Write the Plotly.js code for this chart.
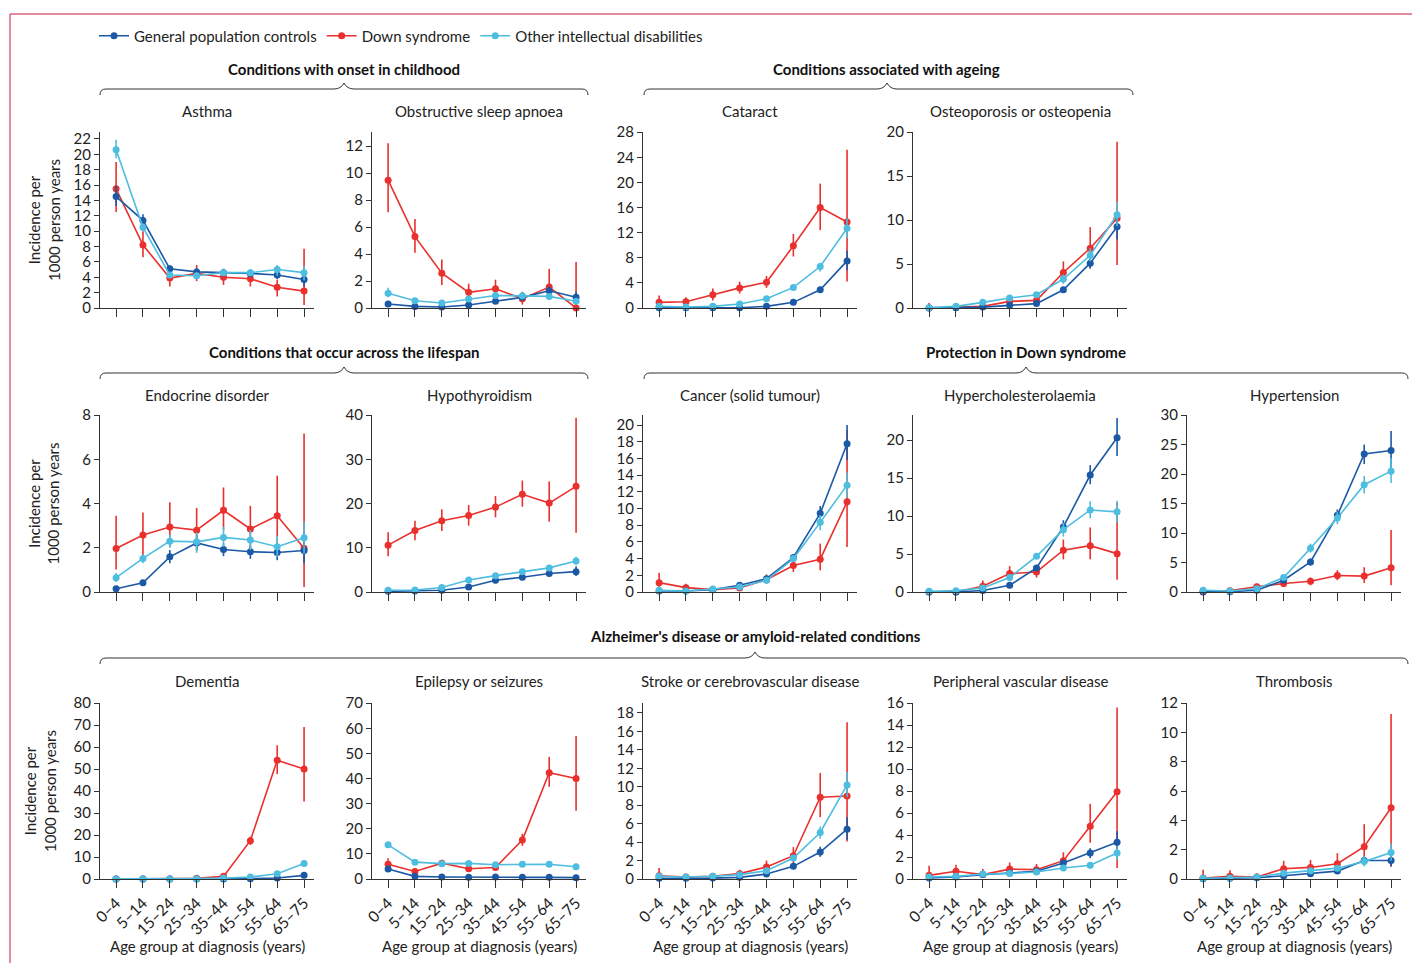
<!DOCTYPE html>
<html>
<head>
<meta charset="utf-8">
<script src="https://cdn.plot.ly/plotly-3.0.1.min.js"></script>
<style>
  html, body { margin: 0; padding: 0; background: #fff; }
  #chart { width: 1412px; height: 963px; }
</style>
</head>
<body>
<div id="chart"></div>
<script>
// age groups at diagnosis
const ages = ["0–4", "5–14", "15–24", "25–34", "35–44", "45–54", "55–64", "65–75"];

// incidence per 1000 person years, with 95% CI as [lo, hi]
// GP = general population controls, DS = Down syndrome, OID = other intellectual disabilities
const asthmaGP = [14.5, 11.4, 5.1, 4.7, 4.6, 4.5, 4.3, 3.7];
const asthmaGPci = [[13.3, 15.9], [10.5, 12.2], [4.7, 5.5], [4.2, 5.2], [4.1, 5.1], [4.0, 5.0], [3.8, 4.8], [2.8, 4.3]];
const asthmaDS = [15.5, 8.2, 3.9, 4.5, 4.0, 3.8, 2.7, 2.2];
const asthmaDSci = [[12.5, 19.0], [6.6, 10.0], [2.8, 4.8], [3.5, 5.6], [3.0, 5.0], [2.8, 4.8], [1.5, 3.7], [0.4, 7.7]];
const asthmaOID = [20.6, 10.5, 4.3, 4.2, 4.6, 4.6, 5.0, 4.6];
const asthmaOIDci = [[19.5, 21.9], [10.0, 11.0], [3.9, 4.7], [3.8, 4.6], [4.2, 5.0], [4.2, 5.0], [4.2, 5.6], [3.6, 5.5]];

const osaGP = [0.3, 0.12, 0.07, 0.22, 0.5, 0.79, 1.28, 0.79];
const osaGPci = [[0.2, 0.4], [0.08, 0.16], [0.04, 0.1], [0.17, 0.27], [0.43, 0.57], [0.7, 0.88], [0.86, 1.6], [0.37, 1.2]];
const osaDS = [9.47, 5.29, 2.58, 1.16, 1.43, 0.69, 1.55, 0];
const osaDSci = [[7.1, 12.2], [4.1, 6.6], [1.7, 3.6], [0.6, 1.8], [0.7, 2.1], [0.25, 1.2], [0.6, 2.9], [0, 3.4]];
const osaOID = [1.1, 0.54, 0.37, 0.66, 0.93, 0.9, 0.86, 0.5];
const osaOIDci = [[0.8, 1.5], [0.42, 0.66], [0.28, 0.46], [0.55, 0.77], [0.8, 1.06], [0.76, 1.04], [0.7, 1.02], [0.35, 0.65]];

const catGP = [0.05, 0.05, 0.05, 0.05, 0.26, 0.9, 2.9, 7.5];
const catGPci = [[0.02, 0.08], [0.03, 0.07], [0.03, 0.07], [0.03, 0.08], [0.2, 0.33], [0.8, 1.0], [2.7, 3.1], [6.0, 9.1]];
const catDS = [0.9, 1.0, 2.1, 3.2, 4.1, 9.9, 16.0, 13.7];
const catDSci = [[0.1, 2.0], [0.4, 1.7], [1.2, 3.1], [2.3, 4.2], [3.2, 5.1], [8.2, 11.8], [12.4, 19.8], [4.2, 25.2]];
const catOID = [0.26, 0.16, 0.26, 0.63, 1.48, 3.28, 6.6, 12.7];
const catOIDci = [[0.18, 0.36], [0.1, 0.24], [0.2, 0.33], [0.55, 0.72], [1.35, 1.62], [3.05, 3.5], [5.8, 7.2], [11.1, 14.3]];

const ostGP = [0.0, 0.04, 0.1, 0.3, 0.5, 2.07, 5.1, 9.25];
const ostGPci = [[0, 0.02], [0.02, 0.07], [0.07, 0.14], [0.25, 0.36], [0.42, 0.58], [1.9, 2.25], [4.5, 5.7], [7.8, 10.6]];
const ostDS = [0, 0.08, 0.19, 0.75, 0.87, 4.04, 6.8, 10.2];
const ostDSci = [[0, 0.57], [0, 0.4], [0.02, 0.5], [0.45, 1.1], [0.55, 1.2], [2.8, 5.3], [4.5, 9.2], [4.9, 18.9]];
const ostOID = [0.04, 0.19, 0.64, 1.13, 1.5, 3.3, 6.0, 10.6];
const ostOIDci = [[0.01, 0.08], [0.13, 0.26], [0.55, 0.74], [1.0, 1.27], [1.3, 1.7], [2.8, 3.8], [5.3, 6.8], [9.3, 12.1]];

const endGP = [0.15, 0.42, 1.59, 2.22, 1.92, 1.82, 1.79, 1.88];
const endGPci = [[0.05, 0.25], [0.35, 0.5], [1.3, 1.9], [1.86, 2.57], [1.62, 2.2], [1.5, 2.1], [1.44, 2.1], [1.3, 2.7]];
const endDS = [1.97, 2.58, 2.94, 2.8, 3.7, 2.85, 3.45, 1.98];
const endDSci = [[1.02, 3.45], [1.36, 3.6], [2.05, 4.06], [1.9, 3.8], [2.8, 4.73], [2.0, 3.9], [2.2, 5.26], [0.23, 7.17]];
const endOID = [0.65, 1.52, 2.3, 2.27, 2.47, 2.35, 2.05, 2.45];
const endOIDci = [[0.45, 0.86], [1.3, 1.7], [2.0, 2.6], [1.77, 2.7], [2.05, 2.95], [1.9, 2.8], [1.6, 2.53], [1.74, 3.18]];

const hypoGP = [0.15, 0.23, 0.38, 1.14, 2.65, 3.33, 4.17, 4.6];
const hypoGPci = [[0.1, 0.2], [0.17, 0.3], [0.3, 0.47], [1.0, 1.3], [2.45, 2.85], [3.1, 3.6], [3.85, 4.5], [3.6, 5.8]];
const hypoDS = [10.6, 13.9, 16.1, 17.3, 19.2, 22.1, 20.1, 23.9];
const hypoDSci = [[8.1, 13.5], [11.7, 16.1], [13.8, 18.7], [15.0, 19.7], [16.9, 21.7], [19.3, 25.2], [15.9, 25.0], [13.4, 39.4]];
const hypoOID = [0.38, 0.45, 1.0, 2.7, 3.7, 4.6, 5.45, 7.0];
const hypoOIDci = [[0.3, 0.47], [0.36, 0.55], [0.85, 1.15], [2.5, 2.9], [3.45, 3.95], [4.3, 4.9], [5.05, 5.9], [6.1, 8.0]];

const canGP = [0.12, 0.12, 0.28, 0.8, 1.6, 4.13, 9.42, 17.75];
const canGPci = [[0.06, 0.2], [0.08, 0.17], [0.22, 0.35], [0.7, 0.9], [1.45, 1.75], [3.85, 4.4], [8.6, 10.3], [15.8, 20.0]];
const canDS = [1.12, 0.52, 0.28, 0.48, 1.48, 3.17, 3.93, 10.8];
const canDSci = [[0.2, 2.3], [0.12, 1.0], [0.05, 0.6], [0.2, 0.8], [1.0, 2.1], [2.4, 4.1], [2.6, 5.8], [5.4, 19.4]];
const canOID = [0.2, 0.12, 0.36, 0.6, 1.4, 4.0, 8.34, 12.8];
const canOIDci = [[0.12, 0.3], [0.08, 0.18], [0.28, 0.45], [0.5, 0.7], [1.25, 1.55], [3.7, 4.3], [7.4, 9.2], [11.3, 14.3]];

const hcGP = [0, 0, 0.2, 0.88, 3.16, 8.57, 15.4, 20.3];
const hcGPci = [[0, 0.03], [0, 0.04], [0.13, 0.28], [0.75, 1.02], [2.9, 3.45], [7.8, 9.45], [14.2, 16.7], [17.9, 22.9]];
const hcDS = [0, 0, 0.75, 2.42, 2.64, 5.5, 6.1, 5.05];
const hcDSci = [[0, 0.4], [0, 0.4], [0.13, 1.5], [1.45, 3.4], [1.9, 3.5], [4.3, 6.9], [4.3, 8.5], [1.6, 11.8]];
const hcOID = [0.09, 0.18, 0.53, 1.9, 4.7, 8.2, 10.8, 10.55];
const hcOIDci = [[0.05, 0.14], [0.12, 0.25], [0.42, 0.65], [1.65, 2.15], [4.35, 5.05], [7.3, 9.1], [9.7, 11.95], [9.1, 12.0]];

const htGP = [0.06, 0.06, 0.29, 2.0, 5.09, 13.0, 23.4, 24.0];
const htGPci = [[0.03, 0.1], [0.03, 0.1], [0.22, 0.37], [1.8, 2.2], [4.5, 5.66], [12.0, 14.0], [21.7, 25.0], [20.9, 27.3]];
const htDS = [0, 0.23, 0.9, 1.43, 1.83, 2.8, 2.7, 4.1];
const htDSci = [[0, 0.2], [0.05, 0.5], [0.4, 1.4], [0.86, 2.0], [1.14, 2.46], [2.0, 3.7], [1.54, 4.2], [1.14, 10.5]];
const htOID = [0.29, 0.17, 0.57, 2.46, 7.43, 12.57, 18.2, 20.5];
const htOIDci = [[0.2, 0.4], [0.1, 0.25], [0.45, 0.7], [2.2, 2.75], [6.7, 8.2], [11.5, 13.6], [16.7, 19.7], [18.5, 22.7]];

const demGP = [0, 0, 0, 0, 0.05, 0.15, 0.45, 1.66];
const demGPci = [[0, 0.02], [0, 0.02], [0, 0.02], [0, 0.03], [0.02, 0.1], [0.08, 0.25], [0.3, 0.6], [1.3, 2.0]];
const demDS = [0, 0, 0, 0.3, 1.2, 17.4, 54.0, 50.0];
const demDSci = [[0, 0.3], [0, 0.3], [0, 0.3], [0, 0.8], [0.7, 1.8], [15.5, 19.3], [47.7, 60.8], [35.2, 69.1]];
const demOID = [0.05, 0.05, 0.05, 0.15, 0.4, 0.9, 2.4, 7.1];
const demOIDci = [[0.02, 0.1], [0.02, 0.1], [0.02, 0.1], [0.08, 0.25], [0.3, 0.55], [0.7, 1.1], [2.0, 2.8], [6.0, 8.0]];

const epiGP = [3.96, 1.06, 0.8, 0.66, 0.8, 0.66, 0.66, 0.53];
const epiGPci = [[3.4, 4.6], [0.9, 1.25], [0.68, 0.95], [0.55, 0.78], [0.68, 0.93], [0.55, 0.78], [0.55, 0.8], [0.4, 0.7]];
const epiDS = [5.9, 3.0, 6.3, 4.1, 4.6, 15.5, 42.3, 40.0];
const epiDSci = [[4.0, 8.3], [2.1, 4.4], [5.0, 7.7], [3.3, 5.0], [3.7, 5.7], [13.2, 18.0], [36.7, 48.6], [27.2, 56.9]];
const epiOID = [13.6, 6.7, 6.1, 6.2, 5.7, 5.9, 5.9, 4.9];
const epiOIDci = [[12.8, 14.4], [6.2, 7.2], [5.6, 6.6], [5.7, 6.7], [5.2, 6.2], [5.4, 6.4], [5.4, 6.4], [4.2, 5.6]];

const strGP = [0.07, 0.07, 0.1, 0.18, 0.54, 1.37, 2.92, 5.4];
const strGPci = [[0.04, 0.11], [0.04, 0.11], [0.06, 0.15], [0.12, 0.25], [0.45, 0.65], [1.17, 1.57], [2.4, 3.5], [4.25, 6.7]];
const strDS = [0.36, 0.22, 0.29, 0.58, 1.3, 2.52, 8.86, 9.0];
const strDSci = [[0, 1.19], [0.05, 0.45], [0.06, 0.55], [0.22, 1.0], [0.76, 2.0], [1.66, 3.46], [6.7, 11.5], [4.07, 17.0]];
const strOID = [0.29, 0.22, 0.29, 0.47, 0.9, 2.27, 5.04, 10.2];
const strOIDci = [[0.2, 0.4], [0.15, 0.3], [0.2, 0.38], [0.38, 0.57], [0.78, 1.03], [1.9, 2.6], [4.36, 5.7], [8.9, 11.6]];

const pvdGP = [0.09, 0.18, 0.4, 0.55, 0.7, 1.46, 2.37, 3.35];
const pvdGPci = [[0.05, 0.14], [0.12, 0.25], [0.32, 0.5], [0.45, 0.66], [0.58, 0.82], [1.3, 1.6], [1.9, 2.8], [2.37, 4.35]];
const pvdDS = [0.33, 0.7, 0.4, 0.9, 0.85, 1.67, 4.8, 7.94];
const pvdDSci = [[0, 1.2], [0.24, 1.3], [0.1, 0.9], [0.4, 1.5], [0.4, 1.37], [1.0, 2.43], [3.3, 6.84], [1.0, 15.6]];
const pvdOID = [0.18, 0.24, 0.46, 0.49, 0.64, 1.0, 1.25, 2.37];
const pvdOIDci = [[0.1, 0.28], [0.16, 0.34], [0.36, 0.57], [0.4, 0.6], [0.53, 0.76], [0.85, 1.15], [0.94, 1.55], [1.76, 2.98]];

const thrGP = [0.02, 0.05, 0.09, 0.22, 0.36, 0.54, 1.26, 1.26];
const thrGPci = [[0.01, 0.04], [0.03, 0.08], [0.06, 0.13], [0.17, 0.28], [0.3, 0.43], [0.46, 0.63], [0.97, 1.58], [0.86, 1.8]];
const thrDS = [0.07, 0.18, 0.14, 0.7, 0.79, 1.04, 2.2, 4.86];
const thrDSci = [[0, 0.63], [0, 0.59], [0, 0.4], [0.29, 1.24], [0.4, 1.3], [0.56, 1.76], [1.08, 3.74], [0.86, 11.26]];
const thrOID = [0.05, 0.07, 0.14, 0.4, 0.56, 0.74, 1.19, 1.8];
const thrOIDci = [[0.02, 0.09], [0.04, 0.11], [0.1, 0.19], [0.32, 0.49], [0.47, 0.66], [0.63, 0.86], [0.86, 1.58], [1.24, 2.43]];

const seriesNames = ["General population controls", "Down syndrome", "Other intellectual disabilities"];

// ---- look ----
const FONT = "Lato, 'Open Sans', sans-serif";
const COL_GP = "#1b58a5";
const COL_DS = "#e9302d";
const COL_OID = "#4dbde0";
const INK = "#222";
const W = 1412, H = 963;

// pixel -> paper
const fx = (p) => p / W;
const fy = (p) => 1 - p / H;

// column / row placement of the small panels (pixels)
const colX = [[100, 314], [372, 586], [643, 857], [913, 1127], [1187, 1401]];
const rowY = [[132, 308], [415, 592], [703, 879]];
const titleY = [111, 395, 681];

const panels = [
  { title: "Asthma", col: 0, row: 0, ymax: 22.9, dtick: 2, gp: asthmaGP, gpCi: asthmaGPci, ds: asthmaDS, dsCi: asthmaDSci, oid: asthmaOID, oidCi: asthmaOIDci },
  { title: "Obstructive sleep apnoea", col: 1, row: 0, ymax: 13.04, dtick: 2, gp: osaGP, gpCi: osaGPci, ds: osaDS, dsCi: osaDSci, oid: osaOID, oidCi: osaOIDci },
  { title: "Cataract", col: 2, row: 0, ymax: 28.02, dtick: 4, gp: catGP, gpCi: catGPci, ds: catDS, dsCi: catDSci, oid: catOID, oidCi: catOIDci },
  { title: "Osteoporosis or osteopenia", col: 3, row: 0, ymax: 20.02, dtick: 5, gp: ostGP, gpCi: ostGPci, ds: ostDS, dsCi: ostDSci, oid: ostOID, oidCi: ostOIDci },
  { title: "Endocrine disorder", col: 0, row: 1, ymax: 8.01, dtick: 2, gp: endGP, gpCi: endGPci, ds: endDS, dsCi: endDSci, oid: endOID, oidCi: endOIDci },
  { title: "Hypothyroidism", col: 1, row: 1, ymax: 40.03, dtick: 10, gp: hypoGP, gpCi: hypoGPci, ds: hypoDS, dsCi: hypoDSci, oid: hypoOID, oidCi: hypoOIDci },
  { title: "Cancer (solid tumour)", col: 2, row: 1, ymax: 21.2, dtick: 2, gp: canGP, gpCi: canGPci, ds: canDS, dsCi: canDSci, oid: canOID, oidCi: canOIDci },
  { title: "Hypercholesterolaemia", col: 3, row: 1, ymax: 23.3, dtick: 5, gp: hcGP, gpCi: hcGPci, ds: hcDS, dsCi: hcDSci, oid: hcOID, oidCi: hcOIDci },
  { title: "Hypertension", col: 4, row: 1, ymax: 30.02, dtick: 5, gp: htGP, gpCi: htGPci, ds: htDS, dsCi: htDSci, oid: htOID, oidCi: htOIDci },
  { title: "Dementia", col: 0, row: 2, ymax: 80.05, dtick: 10, gp: demGP, gpCi: demGPci, ds: demDS, dsCi: demDSci, oid: demOID, oidCi: demOIDci },
  { title: "Epilepsy or seizures", col: 1, row: 2, ymax: 70.05, dtick: 10, gp: epiGP, gpCi: epiGPci, ds: epiDS, dsCi: epiDSci, oid: epiOID, oidCi: epiOIDci },
  { title: "Stroke or cerebrovascular disease", col: 2, row: 2, ymax: 19.08, dtick: 2, gp: strGP, gpCi: strGPci, ds: strDS, dsCi: strDSci, oid: strOID, oidCi: strOIDci },
  { title: "Peripheral vascular disease", col: 3, row: 2, ymax: 16.01, dtick: 2, gp: pvdGP, gpCi: pvdGPci, ds: pvdDS, dsCi: pvdDSci, oid: pvdOID, oidCi: pvdOIDci },
  { title: "Thrombosis", col: 4, row: 2, ymax: 12.01, dtick: 2, gp: thrGP, gpCi: thrGPci, ds: thrDS, dsCi: thrDSci, oid: thrOID, oidCi: thrOIDci },
];

// group headings with curly braces: [text, x0, x1, xMid, textY, braceY]
const groups = [
  ["Conditions with onset in childhood", 100, 588, 344, 69, 89],
  ["Conditions associated with ageing", 644, 1133, 887, 69, 89],
  ["Conditions that occur across the lifespan", 100, 588, 344, 352, 373],
  ["Protection in Down syndrome", 644, 1408, 1026, 352, 373],
  ["Alzheimer's disease or amyloid-related conditions", 100, 1408, 755, 636, 658],
];

const traces = [];
const layout = {
  width: W,
  height: H,
  margin: { l: 0, r: 0, t: 0, b: 0 },
  paper_bgcolor: "#fff",
  plot_bgcolor: "rgba(0,0,0,0)",
  font: { family: FONT, size: 15, color: INK },
  showlegend: true,
  legend: {
    orientation: "h",
    x: fx(94),
    xanchor: "left",
    y: fy(36),
    yanchor: "middle",
    font: { family: FONT, size: 15, color: INK },
    bgcolor: "rgba(0,0,0,0)",
    itemclick: false,
    itemdoubleclick: false,
  },
  shapes: [],
  annotations: [],
};

function addSeries(vals, ci, color, name, rank, ax, first) {
  traces.push({
    type: "scatter",
    mode: "lines+markers",
    x: ages,
    y: vals,
    xaxis: "x" + ax,
    yaxis: "y" + ax,
    name: name,
    legendgroup: name,
    legendrank: rank,
    showlegend: first,
    line: { color: color, width: 1.6 },
    marker: { color: color, size: 7 },
    error_y: {
      type: "data",
      symmetric: false,
      array: ci.map((c, i) => c[1] - vals[i]),
      arrayminus: ci.map((c, i) => vals[i] - c[0]),
      color: color,
      thickness: 1.6,
      width: 0,
    },
    cliponaxis: false,
    hoverinfo: "skip",
  });
}

panels.forEach((p, i) => {
  const n = i === 0 ? "" : String(i + 1);
  const [x0, x1] = colX[p.col];
  const [yTop, yBot] = rowY[p.row];
  const bottomRow = p.row === 2;

  // order: red, dark blue, light blue on top
  addSeries(p.ds, p.dsCi, COL_DS, seriesNames[1], 2, n, i === 0);
  addSeries(p.gp, p.gpCi, COL_GP, seriesNames[0], 1, n, i === 0);
  addSeries(p.oid, p.oidCi, COL_OID, seriesNames[2], 3, n, i === 0);

  layout["xaxis" + n] = {
    domain: [fx(x0), fx(x1)],
    anchor: "y" + n,
    type: "category",
    range: [-0.6, 7.37],
    showgrid: false,
    zeroline: false,
    showline: true,
    linecolor: "#333",
    linewidth: 1,
    ticks: "outside",
    ticklen: 8,
    tickwidth: 1,
    tickcolor: "#333",
    showticklabels: bottomRow,
    tickangle: -45,
    tickfont: { family: FONT, size: 15.5, color: INK },
    fixedrange: true,
  };
  layout["yaxis" + n] = {
    domain: [fy(yBot), fy(yTop)],
    anchor: "x" + n,
    range: [0, p.ymax],
    tick0: 0,
    dtick: p.dtick,
    showgrid: false,
    zeroline: false,
    showline: true,
    linecolor: "#333",
    linewidth: 1,
    ticks: "outside",
    ticklen: 5,
    tickwidth: 1,
    tickcolor: "#333",
    tickfont: { family: FONT, size: 15, color: INK },
    fixedrange: true,
  };

  // panel title
  layout.annotations.push({
    xref: "paper", yref: "paper",
    x: fx((x0 + x1) / 2), y: fy(titleY[p.row]),
    xanchor: "center", yanchor: "middle",
    text: p.title, showarrow: false,
    font: { family: FONT, size: 15, color: INK },
  });

  if (bottomRow) {
    layout.annotations.push({
      xref: "paper", yref: "paper",
      x: fx((x0 + x1) / 2), y: fy(946),
      xanchor: "center", yanchor: "middle",
      text: "Age group at diagnosis (years)", showarrow: false,
      font: { family: FONT, size: 15, color: INK },
    });
  }
});

// y-axis titles, one per row
rowY.forEach((r, k) => {
  layout.annotations.push({
    xref: "paper", yref: "paper",
    x: fx(k === 2 ? 40 : 44), y: fy((r[0] + r[1]) / 2),
    xanchor: "center", yanchor: "middle",
    text: "Incidence per<br>1000 person years",
    textangle: -90, showarrow: false,
    font: { family: FONT, size: 15, color: INK },
  });
});

// group headings and braces
function bracePath(x0, x1, xm, y) {
  const d = 6;
  const pt = (x, yy) => fx(x).toFixed(5) + "," + fy(yy).toFixed(5);
  return "M" + pt(x0, y + d) +
    " Q" + pt(x0, y) + " " + pt(x0 + d, y) +
    " L" + pt(xm - 10, y) +
    " Q" + pt(xm - 3, y) + " " + pt(xm, y - d) +
    " Q" + pt(xm + 3, y) + " " + pt(xm + 10, y) +
    " L" + pt(x1 - d, y) +
    " Q" + pt(x1, y) + " " + pt(x1, y + d);
}

groups.forEach((g) => {
  const [text, x0, x1, xm, ty, by] = g;
  layout.annotations.push({
    xref: "paper", yref: "paper",
    x: fx(xm), y: fy(ty),
    xanchor: "center", yanchor: "middle",
    text: "<b>" + text + "</b>", showarrow: false,
    font: { family: FONT, size: 15, color: "#111" },
  });
  layout.shapes.push({
    type: "path", xref: "paper", yref: "paper",
    path: bracePath(x0, x1, xm, by),
    line: { color: "#333", width: 1 },
  });
});

// red frame of the figure
layout.shapes.push(
  { type: "line", xref: "paper", yref: "paper", x0: fx(10), x1: 1, y0: fy(14), y1: fy(14), line: { color: "#c8173c", width: 1 } },
  { type: "line", xref: "paper", yref: "paper", x0: fx(10), x1: fx(10), y0: fy(14), y1: 0, line: { color: "#c8173c", width: 1 } }
);

Plotly.newPlot("chart", traces, layout, { displayModeBar: false, staticPlot: true });
</script>
</body>
</html>
